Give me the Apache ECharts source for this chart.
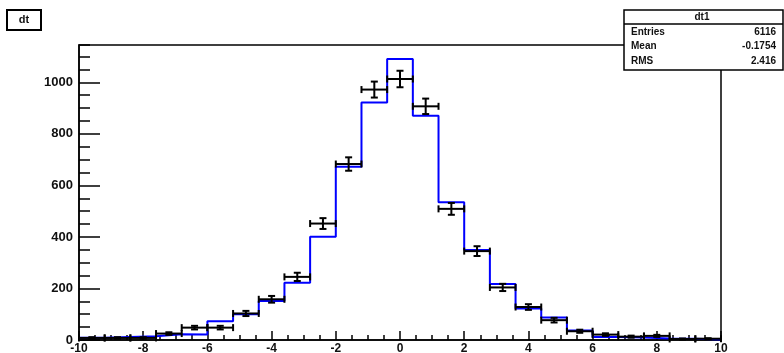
<!DOCTYPE html>
<html>
<head>
<meta charset="utf-8">
<script src="https://cdn.jsdelivr.net/npm/echarts@6/dist/echarts.min.js"></script>
<style>html,body{margin:0;padding:0;background:#fff;}#c{width:784px;height:353px;}</style>
</head>
<body>
<div id="c"></div>
<script>
// ---- data ----
const binEdges = [-10, -9.2, -8.4, -7.6, -6.8, -6.0, -5.2, -4.4, -3.6, -2.8, -2.0, -1.2, -0.4, 0.4, 1.2, 2.0, 2.8, 3.6, 4.4, 5.2, 6.0, 6.8, 7.6, 8.4, 9.2, 10];
const binCenters = [-9.6, -8.8, -8.0, -7.2, -6.4, -5.6, -4.8, -4.0, -3.2, -2.4, -1.6, -0.8, 0, 0.8, 1.6, 2.4, 3.2, 4.0, 4.8, 5.6, 6.4, 7.2, 8.0, 8.8, 9.6];
const histValues = [9, 12, 15, 22, 21, 73, 100, 151, 222, 401, 672, 922, 1091, 870, 535, 349, 217, 122, 87, 37, 12, 10, 6, 5, 2];
const dataValues = [8, 8, 8, 25, 48, 48, 103, 158, 245, 452, 683, 972, 1013, 907, 509, 345, 204, 128, 77, 34, 21, 13, 16, 4, 5];
const dataErrors = [3, 3, 3, 5, 7, 7, 10, 13, 16, 21, 26, 31, 32, 30, 23, 19, 14, 11, 9, 6, 5, 4, 4, 2, 2];
const xTickValues = [-10, -8, -6, -4, -2, 0, 2, 4, 6, 8, 10];
const yTickValues = [0, 200, 400, 600, 800, 1000];
const histTitle = 'dt';
const statsTitle = 'dt1';
const statsRows = [['Entries', '6116'], ['Mean', '-0.1754'], ['RMS', '2.416']];

// ---- build ----
const stepData = [[binEdges[0], 0]];
for (let i = 0; i < histValues.length; i++) stepData.push([binEdges[i], histValues[i]]);
stepData.push([binEdges[binEdges.length - 1], histValues[histValues.length - 1]]);
stepData.push([binEdges[binEdges.length - 1], 0]);

const errData = dataValues.map((v, i) => [binCenters[i], v, dataErrors[i], binEdges[i], binEdges[i + 1]]);

const FONT = 'Liberation Sans, Arial, Helvetica, sans-serif';
const chart = echarts.init(document.getElementById('c'), null, {renderer: 'canvas'});

function renderErr(params, api) {
  const c = api.coord([api.value(0), api.value(1)]);
  const lo = api.coord([api.value(3), api.value(1)]);
  const hi = api.coord([api.value(4), api.value(1)]);
  const top = api.coord([api.value(0), api.value(1) + api.value(2)]);
  const bot = api.coord([api.value(0), Math.max(0, api.value(1) - api.value(2))]);
  const cap = 3.5;
  const st = {stroke: '#000', lineWidth: 2};
  const L = (x1, y1, x2, y2) => ({type: 'line', shape: {x1, y1, x2, y2}, style: st});
  return {
    type: 'group',
    children: [
      L(lo[0], c[1], hi[0], c[1]),
      L(lo[0], c[1] - cap, lo[0], c[1] + cap),
      L(hi[0], c[1] - cap, hi[0], c[1] + cap),
      L(c[0], top[1], c[0], bot[1]),
      L(c[0] - cap, top[1], c[0] + cap, top[1]),
      L(c[0] - cap, bot[1], c[0] + cap, bot[1])
    ]
  };
}

const labelStyle = {color: '#111', fontFamily: FONT, fontWeight: 'bold', fontSize: 12};

const option = {
  animation: false,
  backgroundColor: '#fff',
  grid: {left: 79, right: 63, top: 45, bottom: 13, containLabel: false, outerBoundsMode: 'none',
         show: true, borderColor: '#000', borderWidth: 1.5, backgroundColor: 'transparent'},
  xAxis: {
    type: 'value', min: binEdges[0], max: binEdges[binEdges.length - 1], interval: 2,
    axisLine: {show: true, onZero: false, lineStyle: {color: '#000', width: 1.5}},
    axisTick: {show: true, inside: true, length: 9, lineStyle: {color: '#000', width: 1.5}},
    minorTick: {show: true, splitNumber: 4, length: 5, lineStyle: {color: '#000', width: 1.5}},
    splitLine: {show: false},
    axisLabel: Object.assign({margin: 3, formatter: v => xTickValues.includes(v) ? String(v) : ''}, labelStyle)
  },
  yAxis: [{
    type: 'value', min: 0, max: 1145, interval: 200,
    axisLine: {show: true, onZero: false, lineStyle: {color: '#000', width: 1.5}},
    axisTick: {show: true, inside: true, length: 21, lineStyle: {color: '#000', width: 1.5}},
    splitLine: {show: false},
    axisLabel: Object.assign({margin: 6, showMaxLabel: false, formatter: v => yTickValues.includes(v) ? String(v) : ''}, labelStyle, {fontSize: 13})
  }, {
    type: 'value', min: 0, max: 1145, interval: 50, position: 'left', offset: 0,
    axisLine: {show: false, onZero: false},
    axisTick: {show: true, inside: true, length: 11, lineStyle: {color: '#000', width: 1.5}},
    splitLine: {show: false},
    axisLabel: {show: false}
  }],
  series: [{
    type: 'line', step: 'end', data: stepData, symbol: 'none',
    lineStyle: {color: '#0000ff', width: 2}, z: 3
  }, {
    type: 'custom', data: errData, renderItem: renderErr, z: 4,
    encode: {x: 0, y: 1}
  }],
  graphic: [
    {type: 'rect', z: 100, shape: {x: 7, y: 10, width: 34, height: 20}, style: {fill: '#fff', stroke: '#000', lineWidth: 2}},
    {type: 'text', z: 101, x: 24, y: 20, style: {text: histTitle, fill: '#111', font: 'bold 11px ' + FONT, textAlign: 'center', textVerticalAlign: 'middle'}},
    {type: 'rect', z: 100, shape: {x: 624, y: 10, width: 159, height: 60}, style: {fill: '#fff', stroke: '#000', lineWidth: 1.5}},
    {type: 'line', z: 101, shape: {x1: 624, y1: 24, x2: 783, y2: 24}, style: {stroke: '#000', lineWidth: 1.5}},
    {type: 'text', z: 101, x: 702, y: 17, style: {text: statsTitle, fill: '#111', font: 'bold 10px ' + FONT, textAlign: 'center', textVerticalAlign: 'middle'}},
    ...statsRows.flatMap((r, i) => [
      {type: 'text', z: 101, x: 631, y: 32 + i * 14.5, style: {text: r[0], fill: '#111', font: 'bold 10px ' + FONT, textAlign: 'left', textVerticalAlign: 'middle'}},
      {type: 'text', z: 101, x: 776, y: 32 + i * 14.5, style: {text: r[1], fill: '#111', font: 'bold 10px ' + FONT, textAlign: 'right', textVerticalAlign: 'middle'}}
    ])
  ]
};
chart.setOption(option);
</script>
</body>
</html>
